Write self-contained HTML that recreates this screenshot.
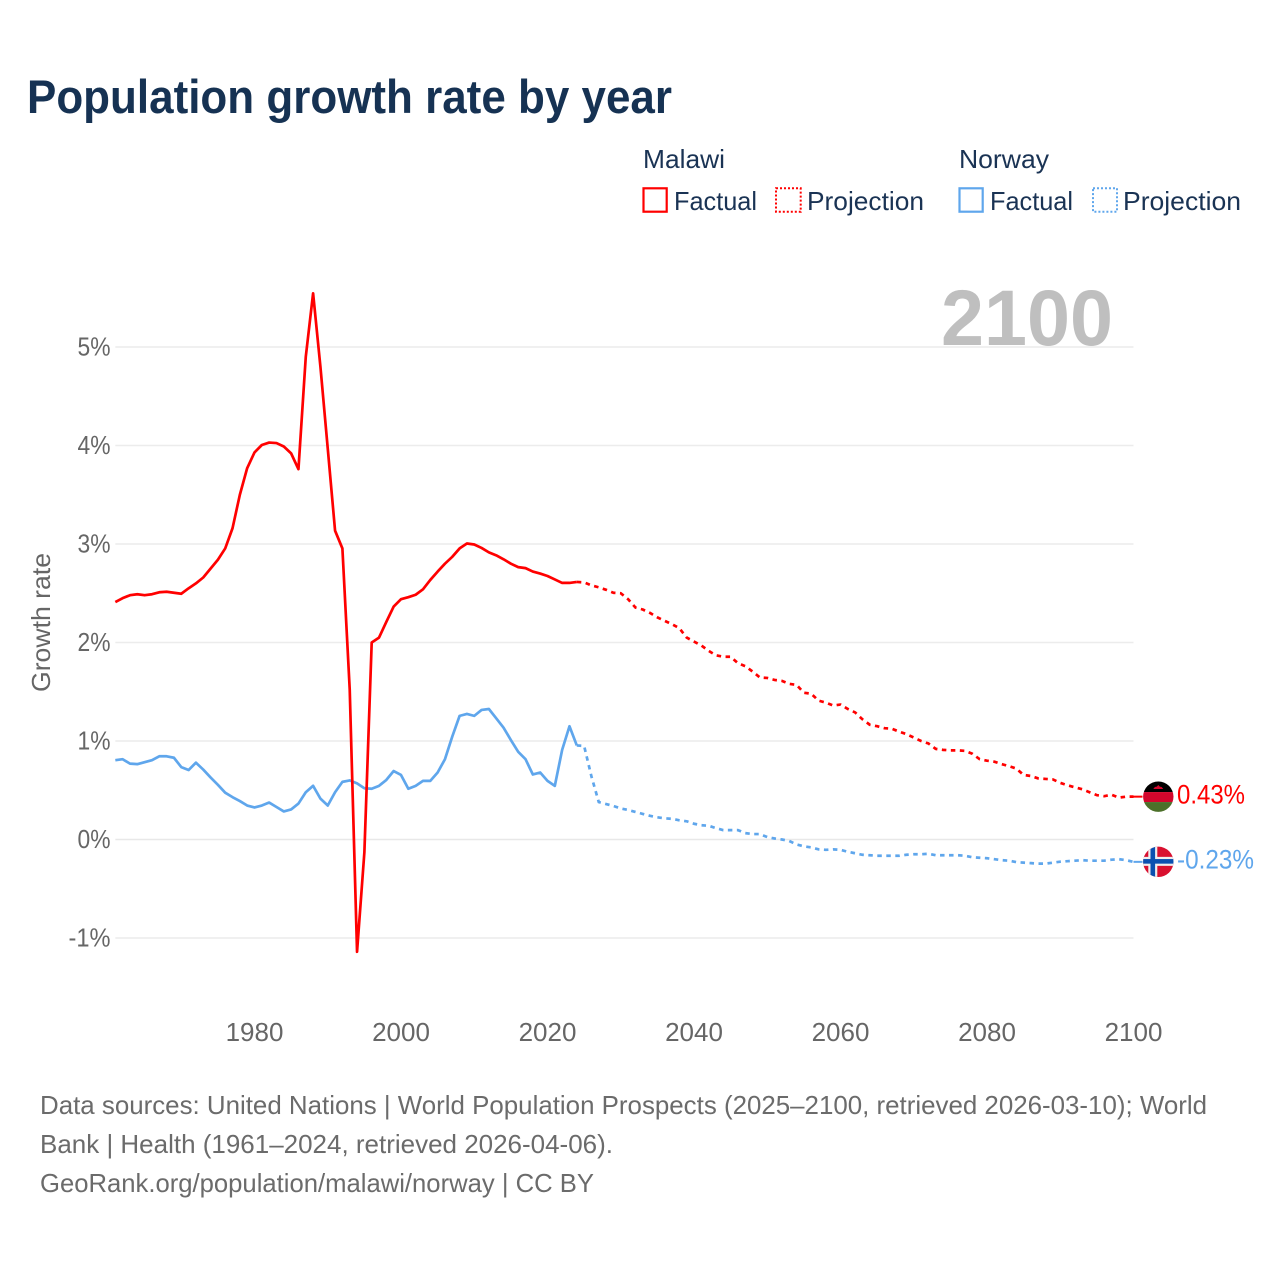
<!DOCTYPE html>
<html lang="en">
<head>
<meta charset="utf-8">
<title>Population growth rate by year</title>
<style>
html,body{margin:0;padding:0;background:#fff;}
svg{display:block;}
text{font-family:"Liberation Sans",sans-serif;}
</style>
</head>
<body>
<svg id="chart" xmlns="http://www.w3.org/2000/svg" width="1280" height="1280" viewBox="0 0 1280 1280">
  <rect width="1280" height="1280" fill="#ffffff"/>
  <text x="27" y="113" font-size="47" font-weight="700" fill="#163253" textLength="645" lengthAdjust="spacingAndGlyphs">Population growth rate by year</text>

  <g font-size="26" fill="#1a3354">
    <text x="643" y="168" textLength="82" lengthAdjust="spacingAndGlyphs">Malawi</text>
    <text x="959" y="168" textLength="90" lengthAdjust="spacingAndGlyphs">Norway</text>
    <rect x="643.5" y="188.3" width="23.2" height="23.4" fill="none" stroke="#ff0000" stroke-width="2.2"/>
    <text x="674" y="210" textLength="83" lengthAdjust="spacingAndGlyphs">Factual</text>
    <rect x="776" y="188.3" width="24.7" height="23.4" fill="none" stroke="#ff0000" stroke-width="2" stroke-dasharray="2 2"/>
    <text x="807" y="210" textLength="117" lengthAdjust="spacingAndGlyphs">Projection</text>
    <rect x="959.5" y="188.3" width="23.2" height="23.4" fill="none" stroke="#5fa6ec" stroke-width="2.2"/>
    <text x="990" y="210" textLength="83" lengthAdjust="spacingAndGlyphs">Factual</text>
    <rect x="1093" y="188.3" width="24" height="23.4" fill="none" stroke="#5fa6ec" stroke-width="2" stroke-dasharray="2 2"/>
    <text x="1123" y="210" textLength="118" lengthAdjust="spacingAndGlyphs">Projection</text>
  </g>

  <g id="grid"></g>
  <text x="941" y="345" font-size="79" font-weight="700" fill="#bfbfbf" textLength="172" lengthAdjust="spacingAndGlyphs">2100</text>
  <g id="yticks" font-size="26" fill="#666666" text-anchor="end"></g>
  <g id="xticks" font-size="26" fill="#666666" text-anchor="middle"></g>
  <text transform="translate(50,692) rotate(-90)" font-size="26" fill="#666666" textLength="139" lengthAdjust="spacingAndGlyphs">Growth rate</text>

  <g id="series"></g>

  <g id="flag-malawi">
    <clipPath id="clip-mw"><circle cx="0" cy="0" r="15.2"/></clipPath>
    <g clip-path="url(#clip-mw)">
      <rect x="-16" y="-16" width="32" height="11.4" fill="#000000"/>
      <rect x="-16" y="-4.6" width="32" height="10" fill="#d3062c"/>
      <rect x="-16" y="5.4" width="32" height="11" fill="#4c702a"/>
      <path d="M-5 -7.6 L5 -7.6 L3.4 -9.6 L1.5 -10 L0 -11.6 L-1.5 -10 L-3.4 -9.6 Z" fill="#d3062c"/>
    </g>
  </g>
  <g id="flag-norway">
    <clipPath id="clip-no"><circle cx="0" cy="0" r="15.2"/></clipPath>
    <g clip-path="url(#clip-no)">
      <rect x="-16" y="-16" width="32" height="32" fill="#d9102f"/>
      <rect x="-10" y="-16" width="9" height="32" fill="#eeeeee"/>
      <rect x="-16" y="-5" width="32" height="9" fill="#eeeeee"/>
      <rect x="-7.8" y="-16" width="4.6" height="32" fill="#0a50b0"/>
      <rect x="-16" y="-2.8" width="32" height="4.6" fill="#0a50b0"/>
    </g>
  </g>
  <text id="label-malawi" x="1177" font-size="27" fill="#ff0000" textLength="68" lengthAdjust="spacingAndGlyphs"></text>
  <text id="label-norway" x="1177" font-size="27" fill="#5fa6ec" textLength="77" lengthAdjust="spacingAndGlyphs"></text>

  <g font-size="26" fill="#6b6b6b">
    <text x="40" y="1114" textLength="1167" lengthAdjust="spacingAndGlyphs">Data sources: United Nations | World Population Prospects (2025–2100, retrieved 2026-03-10); World</text>
    <text x="40" y="1153" textLength="573" lengthAdjust="spacingAndGlyphs">Bank | Health (1961–2024, retrieved 2026-04-06).</text>
    <text x="40" y="1192" textLength="554" lengthAdjust="spacingAndGlyphs">GeoRank.org/population/malawi/norway | CC BY</text>
  </g>
</svg>
<script>
const yTickValues = [5, 4, 3, 2, 1, 0, -1];
const yTickLabels = ["5%", "4%", "3%", "2%", "1%", "0%", "-1%"];
const xTickYears = [1980, 2000, 2020, 2040, 2060, 2080, 2100];
const xTickLabels = ["1980", "2000", "2020", "2040", "2060", "2080", "2100"];
const factualStartYear = 1961;
const projectionStartYear = 2024;
const malawiEndLabel = "0.43%";
const norwayEndLabel = "-0.23%";

const malawiFactual = [
  2.41, 2.45, 2.48, 2.49, 2.48, 2.49, 2.51, 2.515, 2.505, 2.495,
  2.55, 2.60, 2.66, 2.75, 2.84, 2.955, 3.16, 3.50, 3.77, 3.93,
  4.005, 4.03, 4.025, 3.99, 3.92, 3.76, 4.90, 5.545, 4.80, 3.97,
  3.135, 2.955, 1.52, -1.14, -0.13, 2.00, 2.05, 2.21, 2.365, 2.44,
  2.46, 2.485, 2.54, 2.635, 2.72, 2.80, 2.87, 2.955, 3.005, 2.995,
  2.96, 2.915, 2.885, 2.845, 2.80, 2.765, 2.755, 2.72, 2.70, 2.675,
  2.64, 2.605, 2.605, 2.615
];
const malawiProjection = [
  2.615, 2.61, 2.58, 2.56, 2.535, 2.505, 2.50, 2.44, 2.355, 2.335, 2.30,
  2.255, 2.22, 2.185, 2.145, 2.05, 2.01, 1.97, 1.915, 1.87, 1.855,
  1.855, 1.79, 1.76, 1.705, 1.645, 1.64, 1.62, 1.61, 1.58, 1.57,
  1.49, 1.48, 1.41, 1.39, 1.36, 1.37, 1.325, 1.29, 1.22, 1.165,
  1.15, 1.13, 1.125, 1.095, 1.07, 1.035, 1.00, 0.975, 0.92, 0.91,
  0.905, 0.905, 0.90, 0.87, 0.815, 0.80, 0.79, 0.765, 0.745, 0.72,
  0.655, 0.645, 0.62, 0.615, 0.61, 0.575, 0.55, 0.53, 0.51, 0.48,
  0.45, 0.44, 0.455, 0.425, 0.435, 0.435
];
const norwayFactual = [
  0.805, 0.815, 0.77, 0.765, 0.785, 0.805, 0.845, 0.845, 0.83, 0.735,
  0.705, 0.78, 0.71, 0.63, 0.555, 0.475, 0.43, 0.39, 0.345, 0.325,
  0.345, 0.375, 0.33, 0.285, 0.305, 0.365, 0.48, 0.545, 0.415, 0.345,
  0.48, 0.585, 0.60, 0.57, 0.52, 0.515, 0.545, 0.605, 0.695, 0.655,
  0.515, 0.545, 0.595, 0.595, 0.68, 0.815, 1.045, 1.255, 1.275, 1.255,
  1.315, 1.325, 1.23, 1.135, 1.01, 0.89, 0.815, 0.66, 0.68, 0.595,
  0.545, 0.91, 1.15, 0.955
];
const norwayProjection = [
  0.955, 0.95, 0.64, 0.38, 0.36, 0.34, 0.315, 0.30, 0.28, 0.26, 0.24,
  0.225, 0.215, 0.21, 0.195, 0.185, 0.16, 0.145, 0.14, 0.115, 0.095,
  0.095, 0.095, 0.065, 0.055, 0.055, 0.025, 0.01, 0.00, -0.015, -0.05,
  -0.07, -0.08, -0.10, -0.105, -0.10, -0.105, -0.125, -0.14, -0.155, -0.16,
  -0.165, -0.165, -0.165, -0.165, -0.155, -0.15, -0.15, -0.145, -0.16, -0.16,
  -0.16, -0.16, -0.165, -0.18, -0.185, -0.19, -0.20, -0.21, -0.215, -0.23,
  -0.235, -0.24, -0.245, -0.245, -0.235, -0.225, -0.22, -0.215, -0.21, -0.215,
  -0.215, -0.215, -0.205, -0.20, -0.21, -0.227
];

const SVG_NS = "http://www.w3.org/2000/svg";
const xScale = function (year) { return 1133.5 - (2100 - year) * 7.325; };
const yScale = function (value) { return 839.5 - value * 98.5; };
const plotLeft = xScale(factualStartYear);
const plotRight = xScale(2100);

function make(tag, parent) {
  const el = document.createElementNS(SVG_NS, tag);
  parent.appendChild(el);
  return el;
}

const gridGroup = document.getElementById("grid");
const yGroup = document.getElementById("yticks");
yTickValues.forEach(function (value, i) {
  const line = make("line", gridGroup);
  
  
  line.setAttribute("x1", plotLeft);
  line.setAttribute("x2", plotRight);
  line.setAttribute("y1", yScale(value));
  line.setAttribute("y2", yScale(value));
  line.setAttribute("stroke", value === 0 ? "#e8e8e8" : "#ececec");
  line.setAttribute("stroke-width", 1.6);
  const label = make("text", yGroup);
  
  
  label.setAttribute("x", 110.5);
  label.setAttribute("y", yScale(value) + 8.5);
  label.setAttribute("textLength", 33 + (yTickLabels[i].length - 2) * 9);
  label.setAttribute("lengthAdjust", "spacingAndGlyphs");
  label.textContent = yTickLabels[i];
});

const xGroup = document.getElementById("xticks");
xTickYears.forEach(function (year, i) {
  const label = make("text", xGroup);
  
  
  label.setAttribute("x", xScale(year));
  label.setAttribute("y", 1041);
  label.textContent = xTickLabels[i];
});

function drawLine(values, startYear, color, dashed, name) {
  const path = make("polyline", document.getElementById("series"));
  
  
  const pts = values.map(function (v, i) {
    return xScale(startYear + i).toFixed(2) + "," + yScale(v).toFixed(2);
  });
  path.setAttribute("points", pts.join(" "));
  path.setAttribute("fill", "none");
  path.setAttribute("stroke", color);
  path.setAttribute("stroke-width", 2.7);
  path.setAttribute("stroke-linejoin", "round");
  if (dashed) {
    path.setAttribute("stroke-dasharray", "4.5 4.5");
  }
}

function drawEnd(values, color, flagId, labelId, text, name) {
  const last = values[values.length - 1];
  const y = yScale(last);
  const stub = make("line", document.getElementById("series"));
  
  
  stub.setAttribute("x1", plotRight);
  stub.setAttribute("x2", plotRight + 9);
  stub.setAttribute("y1", y);
  stub.setAttribute("y2", y);
  stub.setAttribute("stroke", color);
  stub.setAttribute("stroke-width", 2);
  document.getElementById(flagId).setAttribute("transform", "translate(" + (plotRight + 24.8) + "," + y + ")");
  const label = document.getElementById(labelId);
  label.setAttribute("y", y + 6.6);
  label.textContent = text;
}

drawLine(norwayFactual, factualStartYear, "#5fa6ec", false, "line-norway-factual");
drawLine(norwayProjection, projectionStartYear, "#5fa6ec", true, "line-norway-projection");
drawLine(malawiFactual, factualStartYear, "#ff0000", false, "line-malawi-factual");
drawLine(malawiProjection, projectionStartYear, "#ff0000", true, "line-malawi-projection");
drawEnd(malawiProjection, "#ff0000", "flag-malawi", "label-malawi", malawiEndLabel, "connector-malawi");
drawEnd(norwayProjection, "#5fa6ec", "flag-norway", "label-norway", norwayEndLabel, "connector-norway");
</script>
</body>
</html>
